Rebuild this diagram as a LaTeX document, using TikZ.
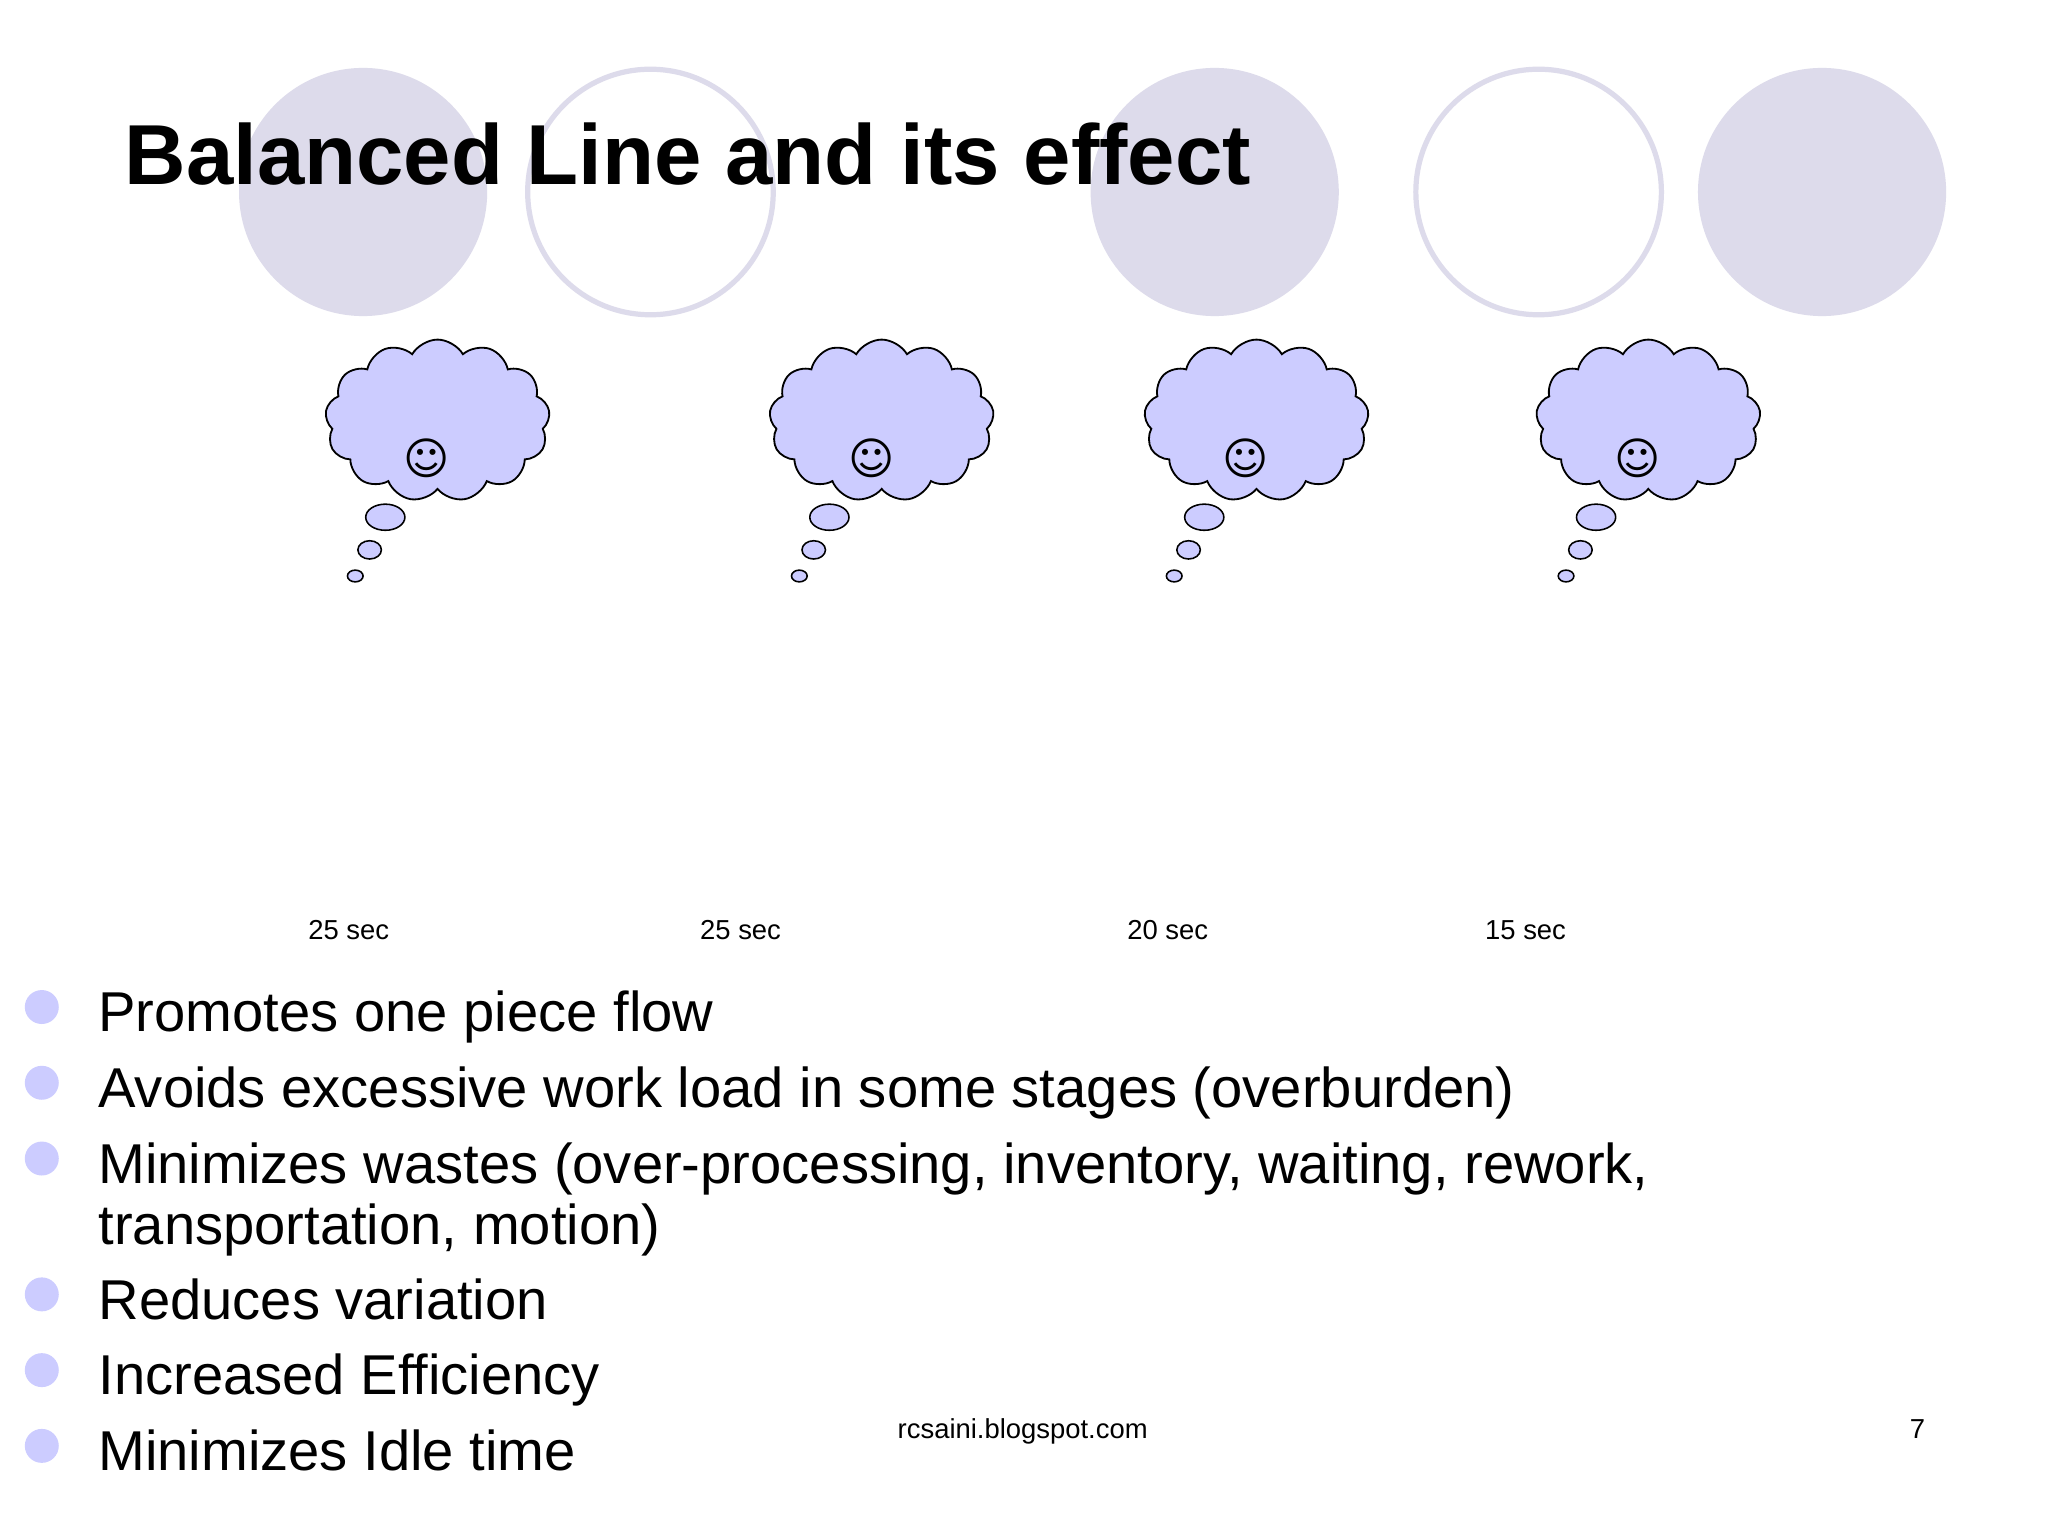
\documentclass[tikz,border=0pt]{standalone}
\usepackage{fontspec}
\setmainfont{Liberation Sans}
\newfontfamily\dvs{DejaVu Sans}
\usetikzlibrary{shapes.symbols,shapes.geometric}
\definecolor{circ}{HTML}{DDDBEB}
\definecolor{cloudc}{HTML}{CCCCFF}
\definecolor{bul}{HTML}{CCCCFF}
\tikzset{
 fc/.style={fill=circ,draw=none},
 oc/.style={draw=circ,line width=2pt},
 cl/.style={cloud,cloud puffs=13,cloud puff arc=120,aspect=1.5,draw=black,fill=cloudc,line width=0.7pt,minimum width=86pt,minimum height=62pt,inner sep=0pt},
 tb/.style={ellipse,draw=black,fill=cloudc,line width=0.6pt,inner sep=0pt},
 lab/.style={font=\fontsize{10.5}{12}\selectfont,anchor=base},
 btxt/.style={font=\fontsize{21.5}{24}\selectfont,anchor=base west,inner sep=0pt},
 bdot/.style={circle,fill=bul,inner sep=0pt,minimum size=13pt}
}
\begin{document}
\begin{tikzpicture}[x=0.5pt,y=-0.5pt]
\useasboundingbox (0,0) rectangle (1568,1176);
\fill[white] (0,0) rectangle (1568,1176);
\fill[fc] (278,147) circle (47.5pt);
\draw[oc] (498,147) circle (47pt);
\fill[fc] (930,147) circle (47.5pt);
\draw[oc] (1178,147) circle (47pt);
\fill[fc] (1395,147) circle (47.5pt);
\node[anchor=base west,font=\bfseries\fontsize{32.6}{38}\selectfont,inner sep=0pt] (title) at (95,141) {Balanced Line and its effect};
\foreach \x/\n in {335/a,675/b,962/c,1262/d}{
 \node[cl] (c\n) at (\x,322) {};
 \node[font=\dvs\fontsize{17}{17}\selectfont] (s\n) at (\x-8,351) {☺};
 \node[tb,minimum width=15pt,minimum height=10pt] (t1\n) at (\x-40,396) {};
 \node[tb,minimum width=9pt,minimum height=7pt] (t2\n) at (\x-52,421) {};
 \node[tb,minimum width=6pt,minimum height=4.5pt] (t3\n) at (\x-63,441) {};
}
\node[lab] (l1) at (267,719) {25 sec};
\node[lab] (l2) at (567,719) {25 sec};
\node[lab] (l3) at (894,719) {20 sec};
\node[lab] (l4) at (1168,719) {15 sec};
\foreach \y/\t [count=\i] in {790/Promotes one piece flow,848/Avoids excessive work load in some stages (overburden),906/{Minimizes wastes (over-processing, inventory, waiting, rework,},1010/Reduces variation,1068/Increased Efficiency,1126/Minimizes Idle time}{
 \node[bdot] (d\i) at (32,\y-19) {};
 \node[btxt] (b\i) at (75,\y) {\t};
}
\node[btxt] (b3b) at (75,953) {transportation, motion)};
\node[lab] (foot) at (783,1101) {rcsaini.blogspot.com};
\node[lab] (pg) at (1468,1101) {7};
\end{tikzpicture}
\end{document}
